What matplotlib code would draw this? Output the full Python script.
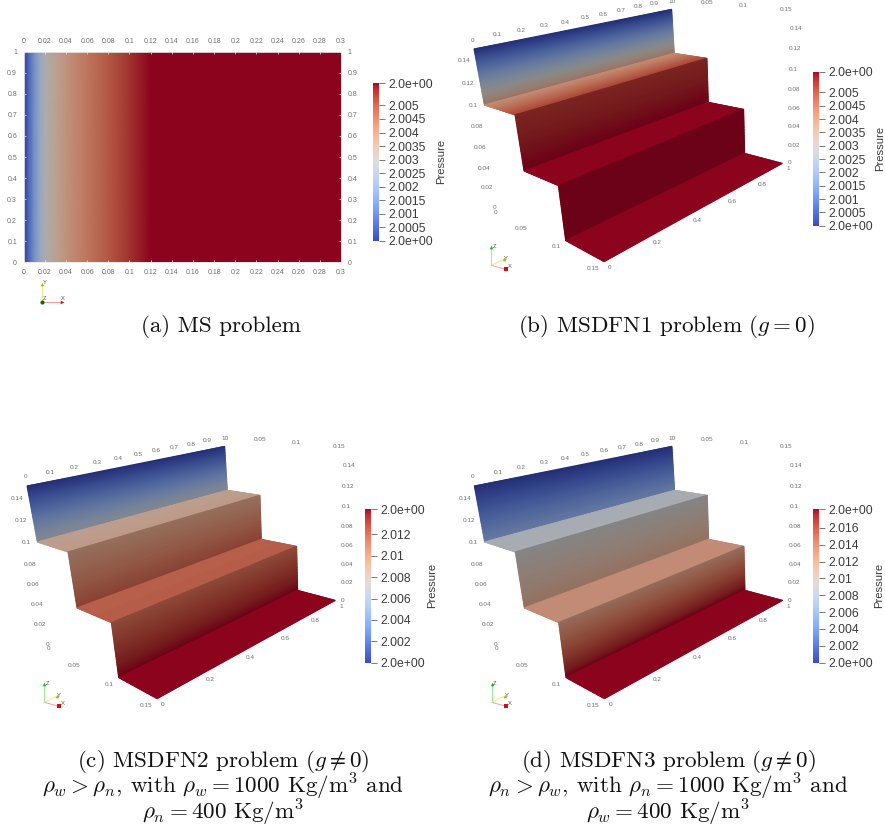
import numpy as np
import matplotlib
matplotlib.use("Agg")
import matplotlib.pyplot as plt
from matplotlib.cm import ScalarMappable
from matplotlib.colors import LinearSegmentedColormap, Normalize

plt.rcParams['font.family'] = ['Liberation Sans', 'DejaVu Sans']
plt.rcParams['mathtext.fontset'] = 'cm'

W, H = 885, 827

# ---------- data ----------
# panel (a): pressure profile across the domain
ms_x = [0, 0.005, 0.01, 0.015, 0.02, 0.03, 0.04, 0.06, 0.08, 0.10, 0.12, 0.13, 0.30]
ms_p = [2.0, 2.0008, 2.0016, 2.0023, 2.0029, 2.0034, 2.0038, 2.0044, 2.0049, 2.0054, 2.0058, 2.0058, 2.0058]
ms_xticks = [0, .02, .04, .06, .08, .1, .12, .14, .16, .18, .2, .22, .24, .26, .28, .3]
ms_xlabels = ['0', '0.02', '0.04', '0.06', '0.08', '0.1', '0.12', '0.14', '0.16', '0.18', '0.2',
              '0.22', '0.24', '0.26', '0.28', '0.3']
ms_yticks = [0, .1, .2, .3, .4, .5, .6, .7, .8, .9, 1]
ms_ylabels = ['0', '0.1', '0.2', '0.3', '0.4', '0.5', '0.6', '0.7', '0.8', '0.9', '1']

# staircase panels: pressure at start / end of each face (wall, tread, riser, tread, riser, floor)
p_b = [(2.0, 2.0038), (2.0039, 2.0051), (2.0054, 2.00578), (2.00578, 2.00578), (2.00578, 2.00578), (2.00578, 2.00578)]
p_c = [(2.0, 2.0068), (2.0086, 2.0090), (2.0095, 2.0122), (2.0118, 2.0119), (2.0118, 2.01438), (2.01438, 2.01438)]
p_d = [(2.0, 2.0058), (2.0086, 2.0088), (2.0091, 2.0119), (2.0124, 2.0124), (2.0124, 2.01823), (2.01823, 2.01823)]

# colour bars
cb_a_ticks = [2.0, 2.0005, 2.001, 2.0015, 2.002, 2.0025, 2.003, 2.0035, 2.004, 2.0045, 2.005, 2.00582]
cb_a_labels = ['2.0e+00', '2.0005', '2.001', '2.0015', '2.002', '2.0025', '2.003', '2.0035', '2.004',
               '2.0045', '2.005', '2.0e+00']
cb_b_ticks = [2.0, 2.0005, 2.001, 2.0015, 2.002, 2.0025, 2.003, 2.0035, 2.004, 2.0045, 2.005, 2.00578]
cb_b_labels = cb_a_labels
cb_c_ticks = [2.0, 2.002, 2.004, 2.006, 2.008, 2.01, 2.012, 2.01438]
cb_c_labels = ['2.0e+00', '2.002', '2.004', '2.006', '2.008', '2.01', '2.012', '2.0e+00']
cb_d_ticks = [2.0, 2.002, 2.004, 2.006, 2.008, 2.01, 2.012, 2.014, 2.016, 2.01823]
cb_d_labels = ['2.0e+00', '2.002', '2.004', '2.006', '2.008', '2.01', '2.012', '2.014', '2.016', '2.0e+00']

# ---------- geometry / layout (pixel positions, panel b frame, 1/3 px units) ----------
stair_left = [(72, 147), (103, 315), (195, 345), (222, 513), (325, 557), (347, 722), (462, 785)]
stair_right = [(665, 28), (673, 160), (771, 175), (775, 307), (881, 328), (884, 460), (997, 490)]
face_shade = [0.62, 0.78, 0.60, 0.78, 0.60, 0.78]
axis_labels = [
    ('0', 67, 120), ('0.1', 143, 105), ('0.2', 213, 91), ('0.3', 282, 77), ('0.4', 345, 66), ('0.5', 405, 53),
    ('0.6', 461, 42), ('0.7', 515, 31), ('0.8', 566, 21), ('0.9', 614, 11), ('10', 665, 4),
    ('0.05', 770, 8), ('0.1', 881, 17), ('0.15', 1008, 28),
    ('0.14', 1038, 85), ('0.12', 1036, 147), ('0.1', 1031, 208), ('0.08', 1033, 268), ('0.06', 1033, 326),
    ('0.04', 1033, 381), ('0.02', 1032, 437), ('0', 1019, 489), ('1', 1015, 507),
    ('0.8', 938, 552), ('0.6', 846, 604), ('0.4', 741, 661), ('0.2', 622, 727), ('0', 480, 802),
    ('0.15', 429, 805), ('0.1', 318, 741), ('0.05', 214, 685), ('0', 138, 636), ('0', 135, 622),
    ('0.14', 43, 183), ('0.12', 55, 250), ('0.1', 70, 316), ('0.08', 80, 381), ('0.06', 91, 443),
    ('0.04', 103, 504), ('0.02', 112, 563),
]
GRAY = '#6e6e6e'
BAR = '#3a3a3a'


def lit(shade):
    base = plt.get_cmap('coolwarm')(np.linspace(0, 1, 256))
    base[:, :3] *= shade
    return LinearSegmentedColormap.from_list(f'lit{shade}', base)


fig = plt.figure(figsize=(W / 100, H / 100), dpi=100, facecolor='white')


def axes_px(x0, y0, x1, y1, **kw):
    return fig.add_axes([x0 / W, 1 - y1 / H, (x1 - x0) / W, (y1 - y0) / H], **kw)


ov = axes_px(0, 0, W, H)
ov.set_xlim(0, W)
ov.set_ylim(H, 0)
ov.axis('off')


def colorbar(x0, y0, x1, y1, vmax, ticks, labels, label_x, label_y):
    cax = axes_px(x0, y0, x1, y1)
    sm = ScalarMappable(Normalize(2.0, vmax), 'coolwarm')
    cb = fig.colorbar(sm, cax=cax)
    cb.outline.set_visible(False)
    cb.set_ticks(ticks, labels=labels)
    cb.minorticks_off()
    cax.tick_params(axis='y', length=4.3, width=0.7, color='#777777', pad=2.5, labelsize=8.7, labelcolor=BAR)
    ov.text(label_x, label_y, 'Pressure', rotation=90, fontsize=8.1, color=BAR, ha='center', va='center')


def triad(ox, oy):
    tips = [('Z', 0, -55, '#9be89b', '#10c010', 6, -2),
            ('Y', 39, -19, '#ece98a', '#b8b010', 3, -2),
            ('X', 44, 12, '#f0a0a0', '#d01010', 7, -8)]
    for name, dx, dy, line, tip, lx, ly in tips:
        ov.plot([ox, ox + dx / 3], [oy, oy + dy / 3], color=line, lw=0.7, solid_capstyle='butt')
        ov.plot(ox + dx / 3, oy + dy / 3, marker='^' if name != 'X' else 's', ms=2.6, color=tip, mew=0)
        ov.text(ox + (dx + lx) / 3 + 1, oy + (dy + ly) / 3, name, fontsize=4.2, color='#555555',
                ha='center', va='center')


def stairs(ox, oy, pressures, vmax):
    norm = Normalize(2.0, vmax)
    L = np.array(stair_left, float) / 3 + (ox, oy)
    R = np.array(stair_right, float) / 3 + (ox, oy)
    s = np.linspace(0, 1, 30)[:, None]
    for k, (p0, p1) in enumerate(pressures):
        left = L[k] + s * (L[k + 1] - L[k])
        right = R[k] + s * (R[k + 1] - R[k])
        X = np.column_stack([left[:, 0], right[:, 0]])
        Y = np.column_stack([left[:, 1], right[:, 1]])
        C = np.repeat(p0 + s * (p1 - p0), 2, axis=1)
        ov.pcolormesh(X, Y, C, shading='gouraud', cmap=lit(face_shade[k]), norm=norm)
    for txt, zx, zy in axis_labels:
        ov.text(ox + zx / 3, oy + zy / 3, txt, fontsize=4.6, color=GRAY, ha='center', va='center')
    triad(ox + 124 / 3, oy + 796 / 3)


# ---------- panel (a) ----------
ax = axes_px(23.7, 51.7, 341, 262.3)
ax.pcolormesh(ms_x, [0, 1], np.array([ms_p, ms_p]), shading='gouraud', cmap=lit(0.78), norm=Normalize(2.0, 2.00582))
ax.set_xlim(0, 0.3)
ax.set_ylim(0, 1)
ax.set_xticks(ms_xticks, labels=ms_xlabels)
ax.set_yticks(ms_yticks, labels=ms_ylabels)
ax.tick_params(axis='both', which='both', direction='in', length=1.5, width=0.5, color='#eeeeee',
               labelsize=5, labelcolor=GRAY, top=True, right=True, labeltop=True, labelright=True)
ax.tick_params(axis='x', pad=4.7)
ax.tick_params(axis='y', pad=4.8)
for sp in ax.spines.values():
    sp.set_color('#e8e8e8')
    sp.set_linewidth(0.6)
colorbar(373, 83.3, 379, 240.7, 2.00582, cb_a_ticks, cb_a_labels, 440.7, 161.7)
# triad for (a)
ox, oy = 41.5, 301.5
ov.plot([ox, ox], [oy, oy - 18], color='#ece98a', lw=0.7)
ov.plot([ox, ox + 20], [oy, oy], color='#f0a0a0', lw=0.7)
ov.plot(ox, oy - 18, marker='^', ms=2.6, color='#b8b010', mew=0)
ov.plot(ox + 20, oy, marker='>', ms=2.6, color='#d01010', mew=0)
ov.plot(ox, oy, marker='o', ms=3, color='#0a6a10', mew=0)
for t, dx, dy in (('Y', 3.5, -19), ('Z', 3.5, -2.5), ('X', 21.5, -2.5)):
    ov.text(ox + dx, oy + dy, t, fontsize=4.2, color='#555555', ha='center', va='center')

# ---------- staircase panels ----------
stairs(450, 0, p_b, 2.00578)
colorbar(813.3, 71.7, 819, 225.7, 2.00578, cb_b_ticks, cb_b_labels, 880, 148)
stairs(3, 437, p_c, 2.01438)
colorbar(365, 509, 371, 662.7, 2.01438, cb_c_ticks, cb_c_labels, 431.7, 585.7)
stairs(450.3, 437, p_d, 2.01823)
colorbar(813.3, 509, 819, 662.7, 2.01823, cb_d_ticks, cb_d_labels, 879.3, 585.7)

# ---------- captions ----------
caps = [
    (221, 327, '(a) MS problem'),
    (667, 327, r'(b) MSDFN1 problem ($g = 0$)'),
    (223, 788, '(c) MSDFN2 problem ($g \\neq 0$)\n'
               '$\\rho_w > \\rho_n$, with $\\rho_w = 1000$ Kg/m$^3$ and\n'
               '$\\rho_n = 400$ Kg/m$^3$'),
    (668, 788, '(d) MSDFN3 problem ($g \\neq 0$)\n'
               '$\\rho_n > \\rho_w$, with $\\rho_n = 1000$ Kg/m$^3$ and\n'
               '$\\rho_w = 400$ Kg/m$^3$'),
]
for x, y, s in caps:
    ov.text(x, y, s, family='cmr10', fontsize=16.6, ha='center', va='center', color='#111111',
            multialignment='center', linespacing=0.82)

fig.savefig('out.png', dpi=100, facecolor='white')
